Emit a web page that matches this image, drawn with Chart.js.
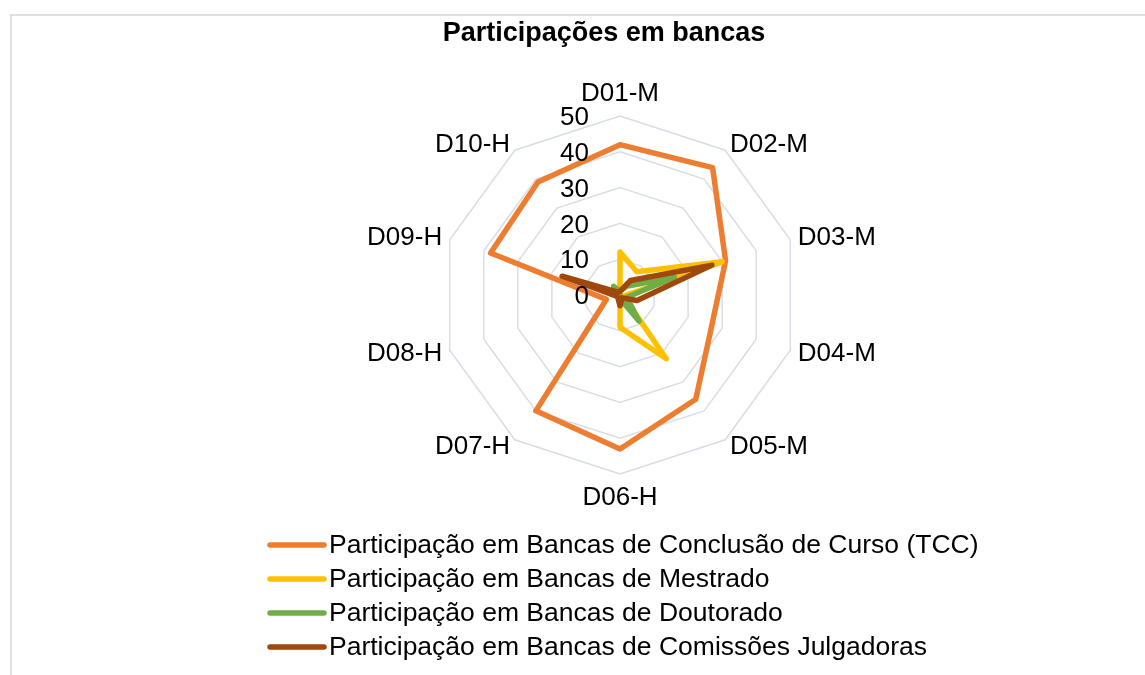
<!DOCTYPE html>
<html>
<head>
<meta charset="utf-8">
<script src="https://cdn.jsdelivr.net/npm/chart.js@4.4.0/dist/chart.umd.min.js"></script>
<style>
  html, body { margin: 0; padding: 0; background: #fff; overflow: hidden; }
  #wrap { position: relative; width: 1145px; height: 675px; }
  #frame { position: absolute; left: 10px; top: 14px; width: 1200px; height: 700px;
           border-left: 2px solid #dde1e7; border-top: 2px solid #dde1e7; box-sizing: border-box; }
  #grafico { position: absolute; left: 0; top: 0; }
</style>
</head>
<body>
<div id="wrap">
  <div id="frame"></div>
  <canvas id="grafico" width="1145" height="675"></canvas>
</div>
<script>
const titulo = "Participações em bancas";
const docentes = ["D01-M", "D02-M", "D03-M", "D04-M", "D05-M", "D06-H", "D07-H", "D08-H", "D09-H", "D10-H"];

const bancasTcc = [42, 44, 31, 27, 36, 43, 40, 4, 38, 39];
const bancasMestrado = [12, 8, 30, 1, 22, 9, 0, 0, 0, 0];
const bancasDoutorado = [1, 3, 16, 2, 9, 1, 0, 0, 1, 3];
const bancasComissoes = [1, 5, 27, 5, 1, 3, 1, 1, 17, 1];

const nomesSeries = [
  "Participação em Bancas de Conclusão de Curso (TCC)",
  "Participação em Bancas de Mestrado",
  "Participação em Bancas de Doutorado",
  "Participação em Bancas de Comissões Julgadoras"
];
const coresSeries = ["#ED7D31", "#FFC000", "#70AD47", "#9E480E"];
const ticksEixo = [0, 10, 20, 30, 40, 50];

const FONTE = '"Liberation Sans", Arial, sans-serif';

// titulo, rotulos, ticks e legenda desenhados a mao (posicoes estilo Excel)
const extras = {
  id: 'extras',
  afterDraw(chart) {
    const ctx = chart.ctx;
    const r = chart.scales.r;
    ctx.save();
    ctx.fillStyle = '#000';

    ctx.font = 'bold 27px ' + FONTE;
    ctx.textAlign = 'center';
    ctx.textBaseline = 'middle';
    ctx.fillText(titulo, 604, 34);

    ctx.font = '26px ' + FONTE;
    ctx.textAlign = 'right';
    ticksEixo.forEach(v => {
      const y = r.yCenter - r.getDistanceFromCenterForValue(v);
      ctx.fillText(String(v), r.xCenter - 31, y + 2);
    });

    const dist = r.drawingArea + 8;
    chart.data.labels.forEach((lab, i) => {
      const p = r.getPointPosition(i, dist);
      const dx = p.x - r.xCenter;
      const align = Math.abs(dx) < 1 ? 'center' : (dx > 0 ? 'left' : 'right');
      let y = p.y;
      if (align === 'center') y += (p.y < r.yCenter ? -15 : 15);
      ctx.textAlign = align;
      ctx.fillText(lab, p.x, y + 1);
    });

    ctx.font = '26.5px ' + FONTE;
    ctx.textAlign = 'left';
    chart.data.datasets.forEach((ds, i) => {
      const y = 545 + 34 * i;
      ctx.strokeStyle = ds.borderColor;
      ctx.lineWidth = 5.5;
      ctx.lineCap = 'round';
      ctx.beginPath();
      ctx.moveTo(270, y);
      ctx.lineTo(324, y);
      ctx.stroke();
      ctx.fillText(ds.label, 329, y + 1);
    });
    ctx.restore();
  }
};

const series = [bancasTcc, bancasMestrado, bancasDoutorado, bancasComissoes];

new Chart(document.getElementById('grafico'), {
  type: 'radar',
  data: {
    labels: docentes,
    datasets: series.map((valores, i) => ({
      label: nomesSeries[i],
      data: valores,
      borderColor: coresSeries[i],
      backgroundColor: 'transparent',
      borderWidth: 5.5,
      pointRadius: 0,
      pointHoverRadius: 0,
      fill: false,
      tension: 0,
      borderJoinStyle: 'round',
      order: 4 - i
    }))
  },
  options: {
    responsive: false,
    animation: false,
    layout: { padding: { top: 116, bottom: 201, left: 300, right: 205 } },
    plugins: {
      legend: { display: false },
      title: { display: false },
      tooltip: { enabled: false }
    },
    scales: {
      r: {
        min: 0,
        max: 50,
        ticks: { stepSize: 10, display: false },
        pointLabels: { display: false },
        angleLines: { display: false },
        grid: { color: '#d8dde5', lineWidth: 1.5 }
      }
    }
  },
  plugins: [extras]
});
</script>
</body>
</html>
